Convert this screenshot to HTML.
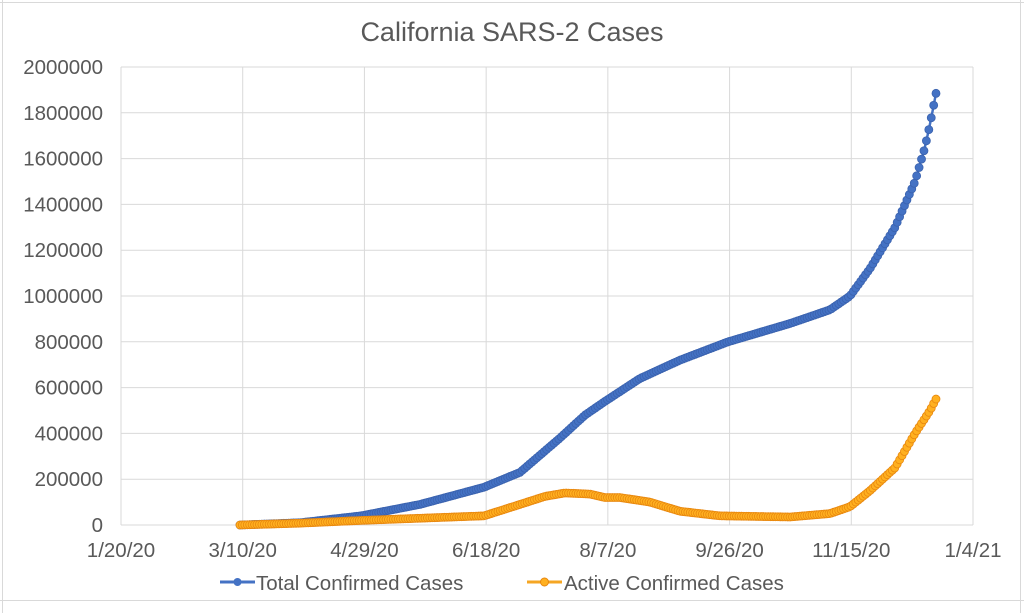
<!DOCTYPE html><html><head><meta charset="utf-8"><style>
body{margin:0;background:#fff;}
svg{display:block;font-family:"Liberation Sans",Arial,sans-serif;}
</style></head><body>
<svg id="s" width="1024" height="613" viewBox="0 0 1024 613" xmlns="http://www.w3.org/2000/svg">
<rect x="0" y="0" width="1024" height="613" fill="#fff"/>
<g stroke="#d9d9d9" stroke-width="1">
<line x1="0" y1="2.5" x2="1024" y2="2.5"/>
<line x1="2.5" y1="0" x2="2.5" y2="613"/>
<line x1="0" y1="600.5" x2="1024" y2="600.5"/>
<line x1="1020.5" y1="0" x2="1020.5" y2="613"/>
</g>
<text x="512" y="41" text-anchor="middle" font-size="27" fill="#595959">California SARS-2 Cases</text>
<g id="grid" stroke="#d9d9d9" stroke-width="1"></g>
<g id="ylab" font-size="20.5" fill="#595959" text-anchor="end"></g>
<g id="xlab" font-size="20.5" fill="#595959" text-anchor="middle"></g>
<g id="ser"></g>
<g font-size="20.5" fill="#595959">
<line x1="220" y1="582" x2="255" y2="582" stroke="#4472C4" stroke-width="3"/>
<circle cx="237.5" cy="582" r="4" fill="#4472C4"/>
<text x="256" y="590">Total Confirmed Cases</text>
<line x1="527" y1="582" x2="562" y2="582" stroke="#F5A623" stroke-width="3"/>
<circle cx="544.5" cy="582" r="4" fill="#FFB020" stroke="#E8870E"/>
<text x="564" y="590">Active Confirmed Cases</text>
</g>
</svg>
<script>
var NS="http://www.w3.org/2000/svg";
function el(p,t,a,txt){var e=document.createElementNS(NS,t);for(var k in a)e.setAttribute(k,a[k]);if(txt!=null)e.textContent=txt;document.getElementById(p).appendChild(e);return e;}
var L=121,R=973,T=67,B=525;
function Y(v){return B-v/2e6*(B-T);}
for(var i=0;i<=10;i++){var y=Y(i*2e5);el("grid","line",{x1:L,x2:R,y1:y,y2:y});el("ylab","text",{x:103,y:y+7},String(i*2e5));}
var xl=["1/20/20","3/10/20","4/29/20","6/18/20","8/7/20","9/26/20","11/15/20","1/4/21"];
for(var i=0;i<8;i++){var x=L+i*(R-L)/7;el("grid","line",{x1:x,x2:x,y1:T,y2:B});el("xlab","text",{x:x,y:557},xl[i]);}
var tot=[[240,0],[300,10e3],[361,40e3],[420,90e3],[484,165e3],[520,230e3],[560,380e3],[585,480e3],[605,540e3],[640,640e3],[680,720e3],[728,800e3],[790,880e3],[830,940e3],[850,1000e3],[870,1120e3],[895,1300e3],[915,1500e3],[925,1650e3],[930,1750e3],[936,1885e3]];
var act=[[240,0],[300,8e3],[361,20e3],[484,40e3],[520,90e3],[545,125e3],[565,140e3],[590,135e3],[605,120e3],[620,120e3],[650,100e3],[680,60e3],[720,40e3],[790,35e3],[830,50e3],[850,80e3],[870,150e3],[895,250e3],[915,400e3],[930,500e3],[936,550e3]];
function interp(a,x){for(var i=1;i<a.length;i++){if(x<=a[i][0]){var t=(x-a[i-1][0])/(a[i][0]-a[i-1][0]);return a[i-1][1]+t*(a[i][1]-a[i-1][1]);}}return a[a.length-1][1];}
function draw(a,fill,stroke){var d=2.434;var pts=[];for(var k=0;k<=286;k++){var x=240+k*d;if(x>936)x=936;pts.push([x,Y(interp(a,x))]);}
el("ser","polyline",{points:pts.map(p=>p[0].toFixed(1)+","+p[1].toFixed(1)).join(" "),fill:"none",stroke:fill,"stroke-width":2.5});
pts.forEach(p=>el("ser","circle",{cx:p[0],cy:p[1],r:4,fill:fill,stroke:stroke,"stroke-width":0.8}));}
draw(tot,"#4472C4","#3A62AE");
draw(act,"#FFB020","#E8870E");
</script>
</body></html>
